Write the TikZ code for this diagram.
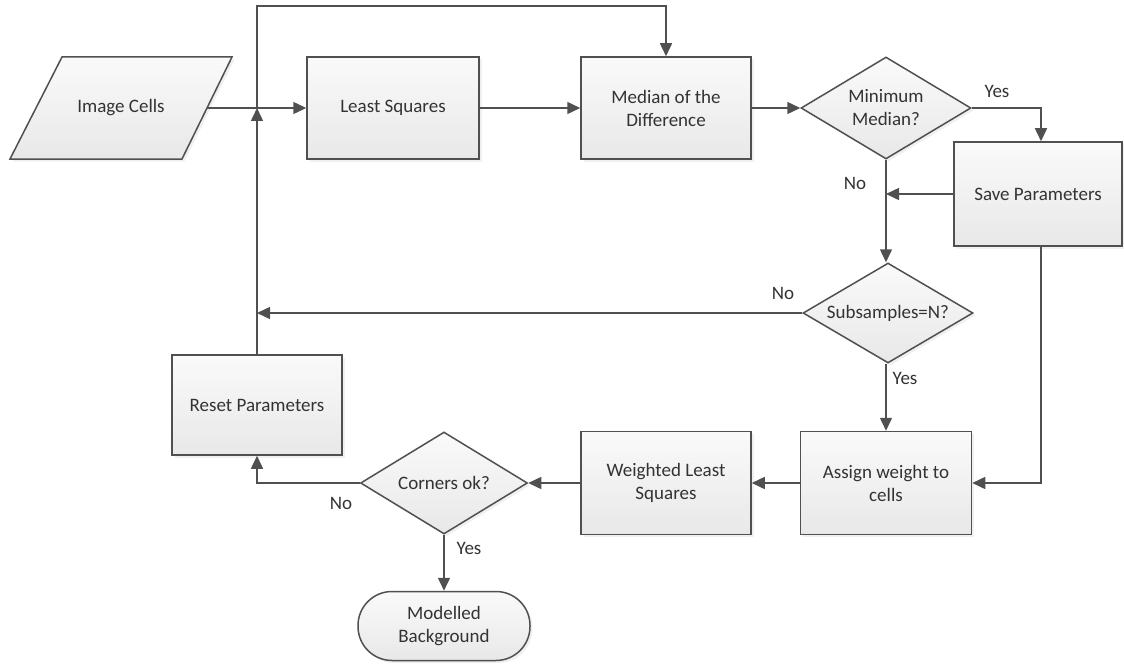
\documentclass[tikz,border=0pt]{standalone}
\usepackage{fontspec}
\setmainfont{Carlito}
\usetikzlibrary{shapes.geometric,arrows.meta,shadows}
\definecolor{ln}{HTML}{505050}
\definecolor{tx}{HTML}{333333}
\begin{document}
\begin{tikzpicture}[x=1pt,y=-1pt,
  font=\fontsize{19}{23}\selectfont, text=tx,
  skin/.style={draw=ln, line width=1.5pt, top color=white!98!black, bottom color=white!91!black,
    drop shadow={opacity=0.12, shadow xshift=2.5pt, shadow yshift=-2.5pt}},
  base/.style={skin, align=center, inner sep=0pt},
  boxnode/.style={base, rectangle, minimum width=172pt, minimum height=102pt},
  decide/.style={base, diamond, shape aspect=1.67, minimum width=170pt, minimum height=102pt},
  arr/.style={draw=ln, line width=1.5pt, -{Triangle[length=13pt,width=12pt]}},
  lab/.style={text=tx, inner sep=0pt}]
\useasboundingbox (0,0) rectangle (1124,666);
\path[skin] (10,159) -- (62,57) -- (232,57) -- (182,159) -- cycle;
\node[align=center] (ic) at (121,108) {Image Cells};
\coordinate (ice) at (207,108);
\node[boxnode] (ls) at (393,108) {Least Squares};
\node[boxnode, minimum width=170pt] (md) at (666,108) {Median of the\\Difference};
\node[decide] (mm) at (886,108) {Minimum\\Median?};
\node[boxnode, minimum width=168pt, minimum height=104pt] (sp) at (1038,194) {Save Parameters};
\node[decide, minimum width=170pt, minimum height=100pt] (sn) at (888,313) {Subsamples=N?};
\node[boxnode, minimum width=171pt, minimum height=103pt] (aw) at (886,483) {Assign weight to\\cells};
\node[boxnode, minimum width=170pt, minimum height=103pt] (wl) at (666,483) {Weighted Least\\Squares};
\node[decide, minimum width=167pt] (co) at (444,483) {Corners ok?};
\node[base, rectangle, rounded corners=34pt, minimum width=172pt, minimum height=69pt] (mb) at (444,626) {Modelled\\Background};
\node[boxnode, minimum width=170pt, minimum height=100pt] (rp) at (257,405) {Reset Parameters};
\coordinate (j1) at (257,108);
\coordinate (top) at (666,6);
% connectors
\draw[arr] (ice) -- (ls.west);
\draw[arr] (ls.east) -- (md.west);
\draw[arr] (md.east) -- (mm.west);
\draw[arr] (mm.east) -| ([xshift=3pt]sp.north);
\draw[arr] (sp.west) -- (sp.west -| mm.south);
\draw[arr] (mm.south) -- (mm.south |- sn.north);
\draw[arr] (sn.west) -- (sn.west -| j1);
\draw[arr] (sn.south -| aw.north) -- (aw.north);
\draw[arr] ([xshift=3pt]sp.south) |- (aw.east);
\draw[arr] (aw.west) -- (wl.east);
\draw[arr] (wl.west) -- (co.east);
\draw[arr] (co.south) -- (mb.north);
\draw[arr] (co.west) -| (rp.south);
\draw[arr] (rp.north) -- (j1);
\draw[arr] (j1) -- (j1 |- top) -- (top) -- (md.north);
% labels
\node[lab] (l1) at (997,91) {Yes};
\node[lab] (l2) at (855,183) {No};
\node[lab] (l3) at (783,293) {No};
\node[lab] (l4) at (905,378) {Yes};
\node[lab] (l5) at (469,548) {Yes};
\node[lab] (l6) at (341,503) {No};
\end{tikzpicture}
\end{document}
